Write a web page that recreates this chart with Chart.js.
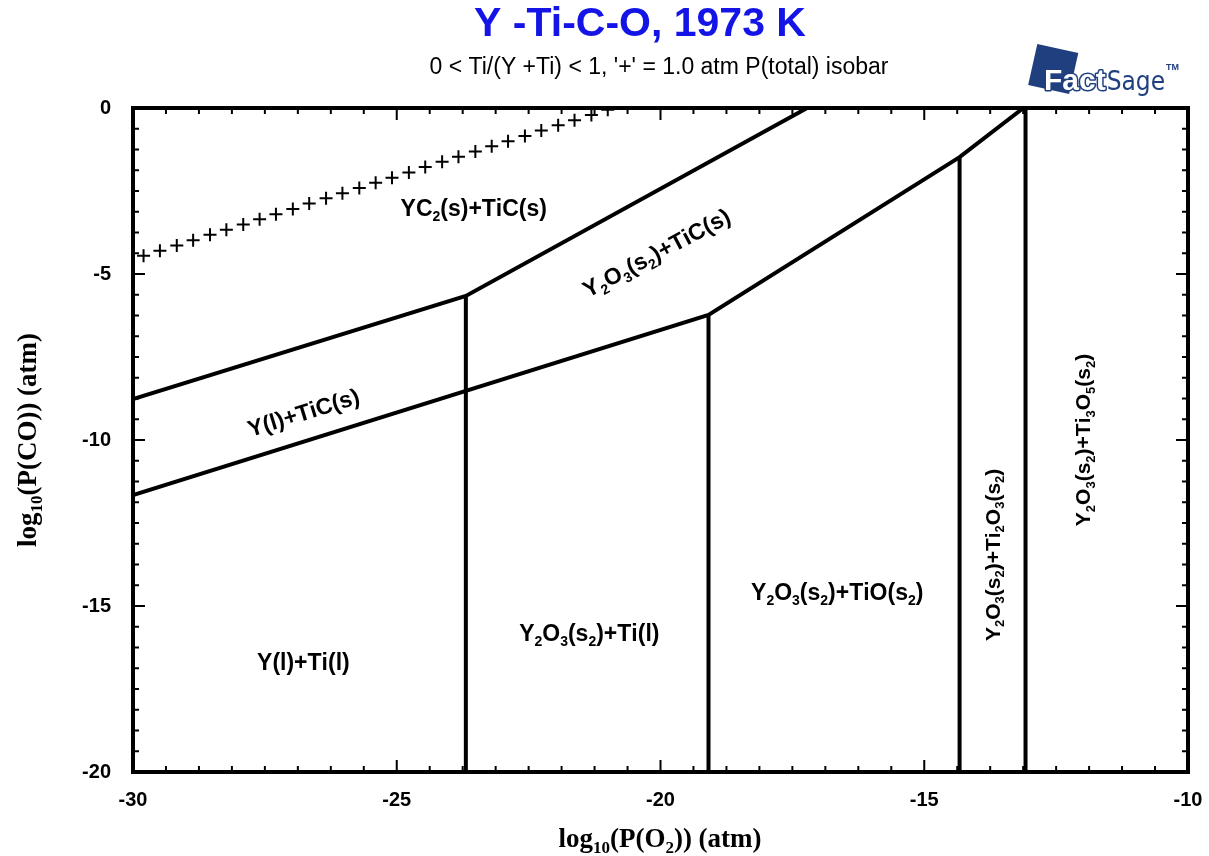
<!DOCTYPE html>
<html>
<head>
<meta charset="utf-8">
<title>Y-Ti-C-O predominance diagram</title>
<script src="https://cdn.jsdelivr.net/npm/chart.js@4.4.1/dist/chart.umd.min.js"></script>
<style>
  html, body { margin: 0; padding: 0; background: #fff; }
  #wrap { width: 1209px; height: 856px; position: relative; }
</style>
</head>
<body>
<div id="wrap"><canvas id="chart" width="1209" height="856"></canvas></div>
<script>
// ---- data (x = log10 P(O2), y = log10 P(CO)) ----
const xTicks = [-30, -25, -20, -15, -10];
const yTicks = [0, -5, -10, -15, -20];

// upper boundary: YC2 / Y(l)+TiC, then YC2 / Y2O3+TiC
const upperX = [-30, -23.69, -17.22];
const upperY = [-8.77, -5.66, 0];

// lower boundary: Y(l)+TiC / Y(l)+Ti(l) ... up to the Ti3O5 field
const lowerX = [-30, -19.09, -14.33, -13.12];
const lowerY = [-11.66, -6.23, -1.48, 0];

// vertical phase boundaries (x position, top y)
const vertX   = [-23.69, -19.09, -14.33, -13.08];
const vertTop = [-5.66, -6.23, -1.48, 0];
const vertBottom = -20;

// '+' = 1.0 atm P(total) isobar
const isobarX = [-29.80, -29.49, -29.17, -28.86, -28.54, -28.23, -27.91, -27.60, -27.29, -26.97,
                 -26.66, -26.34, -26.03, -25.71, -25.40, -25.09, -24.77, -24.46, -24.14, -23.83,
                 -23.51, -23.20, -22.89, -22.57, -22.26, -21.94, -21.63, -21.31, -21.00];
const isobarY = [-4.45, -4.30, -4.14, -3.98, -3.82, -3.67, -3.51, -3.35, -3.20, -3.04,
                 -2.88, -2.72, -2.57, -2.41, -2.25, -2.10, -1.94, -1.78, -1.62, -1.47,
                 -1.31, -1.15, -1.00, -0.84, -0.68, -0.52, -0.37, -0.21, -0.05];

// phase field labels ('_' marks the next character as subscript)
const fieldNames = ['YC_2(s)+TiC(s)', 'Y_2O_3(s_2)+TiC(s)', 'Y(l)+TiC(s)', 'Y(l)+Ti(l)',
                    'Y_2O_3(s_2)+Ti(l)', 'Y_2O_3(s_2)+TiO(s_2)', 'Y_2O_3(s_2)+Ti_2O_3(s_2)',
                    'Y_2O_3(s_2)+Ti_3O_5(s_2)'];
const fieldX = [-23.54, -20.08, -26.77, -26.77, -21.35, -16.65, -13.71, -12.0];
const fieldY = [-3.01, -4.35, -9.16, -16.69, -15.81, -14.58, -13.46, -10.0];
const fieldAngle = [0, -28, -17, 0, 0, 0, -90, -90];
const fieldSize = [23, 23, 23, 23, 23, 23, 21, 21];

const toPts = (xs, ys) => xs.map((x, i) => ({ x, y: ys[i] }));

const lineStyle = { borderColor: '#000', borderWidth: 4, pointRadius: 0, showLine: true, fill: false };

const datasets = [
    { ...lineStyle, data: toPts(upperX, upperY) },
    { ...lineStyle, data: toPts(lowerX, lowerY) },
    ...vertX.map((x, i) => ({ ...lineStyle, data: [{ x, y: vertTop[i] }, { x, y: vertBottom }] })),
    {
        data: toPts(isobarX, isobarY), showLine: false,
        pointStyle: 'cross', pointRadius: 6.5, borderColor: '#000', borderWidth: 2,
        pointHoverRadius: 6.5
    }
];

const SANS = 'Arial, "Liberation Sans", sans-serif';
const SERIF = '"Times New Roman", "Liberation Serif", serif';

// draw text where "_c" puts c as a subscript; centred on (x, y)
function drawRich(ctx, text, x, y, size, family, weight, angle, color) {
    const parts = [];
    for (let i = 0; i < text.length; i++) {
        if (text[i] === '_' && i + 1 < text.length) { parts.push({ t: text[i + 1], sub: true }); i++; }
        else parts.push({ t: text[i], sub: false });
    }
    const big = `${weight} ${size}px ${family}`;
    const small = `${weight} ${Math.round(size * 0.62)}px ${family}`;
    let total = 0;
    parts.forEach(p => { ctx.font = p.sub ? small : big; p.w = ctx.measureText(p.t).width; total += p.w; });
    ctx.save();
    ctx.translate(x, y);
    ctx.rotate(angle * Math.PI / 180);
    ctx.fillStyle = color;
    ctx.textBaseline = 'alphabetic';
    ctx.textAlign = 'left';
    let cx = -total / 2;
    const base = size * 0.36;
    parts.forEach(p => {
        ctx.font = p.sub ? small : big;
        ctx.fillText(p.t, cx, p.sub ? base + size * 0.22 : base);
        cx += p.w;
    });
    ctx.restore();
}

const decorPlugin = {
    id: 'decor',
    afterDatasetsDraw(chart) {
        const { ctx, chartArea: a, scales: { x, y } } = chart;

        // inward tick marks, 8 intervals per labelled step
        ctx.save();
        ctx.strokeStyle = '#000';
        ctx.lineWidth = 2;
        const minorStep = 5 / 8;
        for (let k = 0; ; k++) {
            const v = x.min + k * minorStep;
            if (v > x.max + 1e-6) break;
            const px = x.getPixelForValue(v);
            const len = (k % 8 === 0) ? 12 : 6;
            ctx.beginPath();
            ctx.moveTo(px, a.bottom); ctx.lineTo(px, a.bottom - len);
            ctx.moveTo(px, a.top); ctx.lineTo(px, a.top + len);
            ctx.stroke();
        }
        for (let k = 0; ; k++) {
            const v = y.min + k * minorStep;
            if (v > y.max + 1e-6) break;
            const py = y.getPixelForValue(v);
            const len = (k % 8 === 0) ? 12 : 6;
            ctx.beginPath();
            ctx.moveTo(a.left, py); ctx.lineTo(a.left + len, py);
            ctx.moveTo(a.right, py); ctx.lineTo(a.right - len, py);
            ctx.stroke();
        }
        // frame
        ctx.lineWidth = 4;
        ctx.strokeRect(a.left, a.top, a.right - a.left, a.bottom - a.top);
        ctx.restore();

        // field labels
        fieldNames.forEach((name, i) => {
            drawRich(ctx, name, x.getPixelForValue(fieldX[i]), y.getPixelForValue(fieldY[i]),
                     fieldSize[i], SANS, 'bold', fieldAngle[i], '#000');
        });
    },
    afterDraw(chart) {
        const { ctx } = chart;
        // title block
        ctx.save();
        ctx.textAlign = 'center';
        ctx.textBaseline = 'middle';
        ctx.fillStyle = '#1414e6';
        ctx.font = `bold 41px ${SANS}`;
        ctx.fillText('Y -Ti-C-O, 1973 K', 640, 25);
        ctx.fillStyle = '#000';
        ctx.font = `23px ${SANS}`;
        ctx.fillText("0 < Ti/(Y +Ti) < 1, '+' = 1.0 atm P(total) isobar", 659, 68);
        ctx.restore();

        // axis titles
        drawRich(ctx, 'log_1_0(P(O_2)) (atm)', 660, 837, 27, SERIF, 'bold', 0, '#000');
        drawRich(ctx, 'log_1_0(P(CO)) (atm)', 26, 440, 27, SERIF, 'bold', -90, '#000');

        // FactSage mark
        const navy = '#1f3f7f';
        ctx.save();
        ctx.translate(1053, 70);
        ctx.rotate(0.22);
        ctx.fillStyle = navy;
        ctx.fillRect(-21, -22, 42, 42);
        ctx.restore();
        ctx.save();
        ctx.textBaseline = 'alphabetic';
        ctx.font = `bold 30px ${SANS}`;
        ctx.lineWidth = 3;
        ctx.lineJoin = 'round';
        ctx.strokeStyle = navy;
        ctx.fillStyle = '#fff';
        ctx.strokeText('Fact', 1044, 90);
        ctx.fillText('Fact', 1044, 90);
        const fw = ctx.measureText('Fact').width;
        ctx.fillStyle = navy;
        ctx.font = '26px "Liberation Sans Narrow", "DejaVu Sans Condensed", sans-serif';
        ctx.fillText('Sage', 1044 + fw + 1, 90);
        const sw = ctx.measureText('Sage').width;
        ctx.font = `bold 9px ${SANS}`;
        ctx.fillText('TM', 1044 + fw + sw + 2, 70);
        ctx.restore();
    }
};

new Chart(document.getElementById('chart'), {
    type: 'scatter',
    data: { datasets },
    options: {
        responsive: false,
        animation: false,
        events: [],
        layout: { padding: { left: 0, top: 108, right: 21, bottom: 0 } },
        plugins: { legend: { display: false }, tooltip: { enabled: false } },
        scales: {
            x: {
                type: 'linear', min: -30, max: -10,
                afterBuildTicks: s => { s.ticks = xTicks.map(v => ({ value: v })); },
                afterFit: s => { s.height = 84; s.paddingLeft = 0; s.paddingRight = 0; },
                grid: { display: false },
                border: { display: false },
                ticks: { color: '#000', padding: 8, font: { family: SANS, size: 20, weight: 'bold' } }
            },
            y: {
                type: 'linear', min: -20, max: 0,
                afterBuildTicks: s => { s.ticks = yTicks.map(v => ({ value: v })); },
                afterFit: s => { s.width = 133; s.paddingTop = 0; s.paddingBottom = 0; },
                grid: { display: false },
                border: { display: false },
                ticks: { color: '#000', padding: 14, font: { family: SANS, size: 20, weight: 'bold' } }
            }
        }
    },
    plugins: [decorPlugin]
});
</script>
</body>
</html>
